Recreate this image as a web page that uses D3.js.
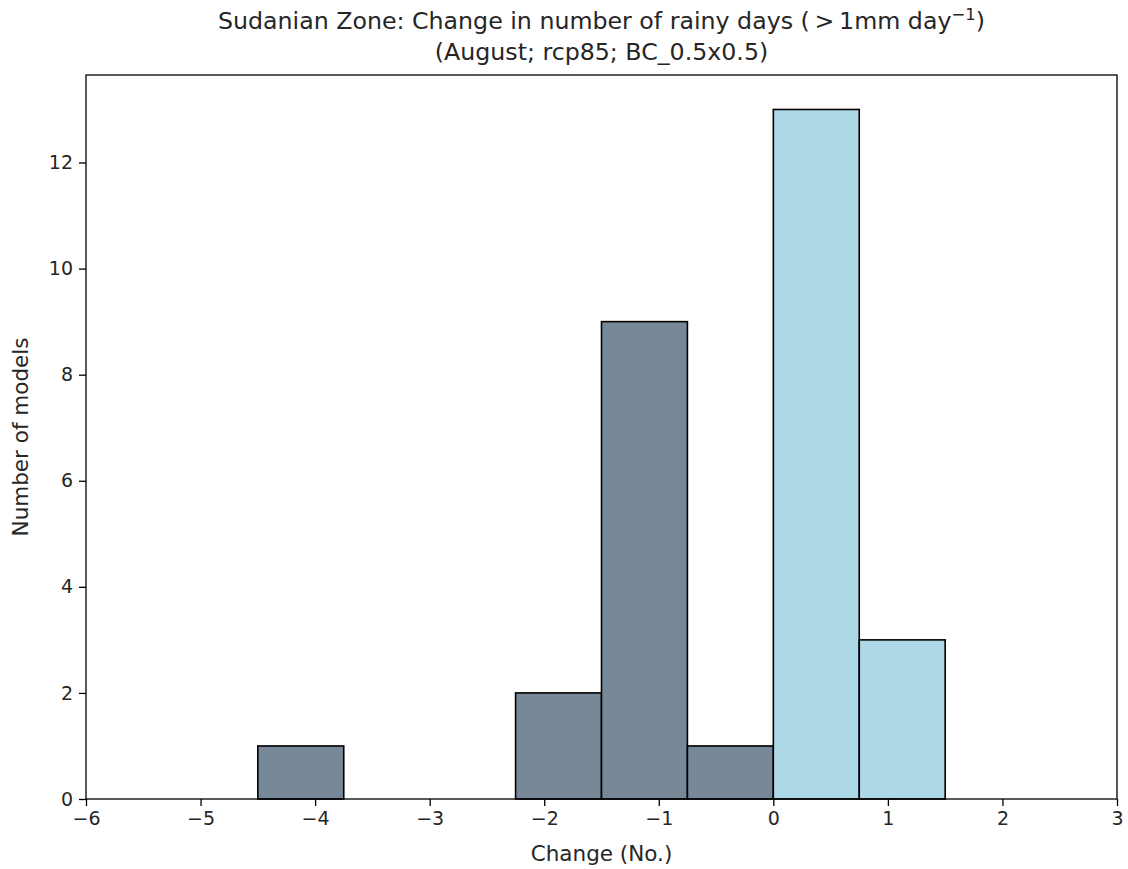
<!DOCTYPE html>
<html><head><meta charset="utf-8">
<script src="https://cdn.jsdelivr.net/npm/d3@7"></script>
<style>body{margin:0;background:#fff;} text{font-family:"DejaVu Sans",sans-serif;fill:#262626;}</style>
</head><body>
<svg id="c" width="1128" height="869"></svg>
<script>
const binStarts = [-4.5, -3.75, -3.0, -2.25, -1.5, -0.75, 0.0, 0.75];
const binWidth = 0.75;
const counts = [1, 0, 0, 2, 9, 1, 13, 3];
const xTicks = [-6, -5, -4, -3, -2, -1, 0, 1, 2, 3];
const yTicks = [0, 2, 4, 6, 8, 10, 12];
const xDomain = [-6, 3];
const yDomain = [0, 13.65];
const negColor = "#778899", posColor = "#add8e6";

const svg = d3.select("#c");
const L = 86, R = 1117, T = 75, B = 799;
const x = d3.scaleLinear().domain(xDomain).range([L, R]);
const y = d3.scaleLinear().domain(yDomain).range([B, T]);

const bins = binStarts.map((s, i) => ({x0: s, x1: s + binWidth, n: counts[i]}));
svg.append("g").selectAll("rect").data(bins).join("rect")
  .attr("x", d => x(d.x0)).attr("width", d => x(d.x1) - x(d.x0))
  .attr("y", d => y(d.n)).attr("height", d => y(0) - y(d.n))
  .attr("fill", d => d.x0 < 0 ? negColor : posColor)
  .attr("stroke", "#000").attr("stroke-width", 1.6);

const fs = 19;
const xa = svg.append("g").attr("transform", `translate(0,${B})`)
  .call(d3.axisBottom(x).tickValues(xTicks).tickSize(7).tickPadding(6).tickFormat(d => d < 0 ? "\u2212" + Math.abs(d) : d));
const ya = svg.append("g").attr("transform", `translate(${L},0)`)
  .call(d3.axisLeft(y).tickValues(yTicks).tickSize(7).tickPadding(6));
[xa, ya].forEach(a => {
  a.selectAll(".domain").remove();
  a.selectAll("line").attr("stroke", "#000").attr("stroke-width", 1.3);
  a.selectAll("text").attr("font-size", fs).style("font-family", "DejaVu Sans").attr("fill", "#262626");
});
svg.append("rect").attr("x", L).attr("y", T).attr("width", R - L).attr("height", B - T)
  .attr("fill", "none").attr("stroke", "#000").attr("stroke-width", 1.3);

svg.append("text").attr("x", (L + R) / 2).attr("y", 861).attr("text-anchor", "middle")
  .attr("font-size", 21.5).text("Change (No.)");
svg.append("text").attr("transform", `translate(28,${(T + B) / 2}) rotate(-90)`).attr("text-anchor", "middle")
  .attr("font-size", 21.5).text("Number of models");

const t1 = svg.append("text").attr("x", (L + R) / 2).attr("y", 29).attr("text-anchor", "middle").attr("font-size", 23.7);
t1.append("tspan").text("Sudanian Zone: Change in number of rainy days (\u2009>\u20091mm day");
t1.append("tspan").attr("dy", -9).attr("font-size", 16.5).text("\u22121");
t1.append("tspan").attr("dy", 9).text(")");
svg.append("text").attr("x", (L + R) / 2).attr("y", 60).attr("text-anchor", "middle").attr("font-size", 23.7)
  .text("(August; rcp85; BC_0.5x0.5)");
</script>
</body></html>
